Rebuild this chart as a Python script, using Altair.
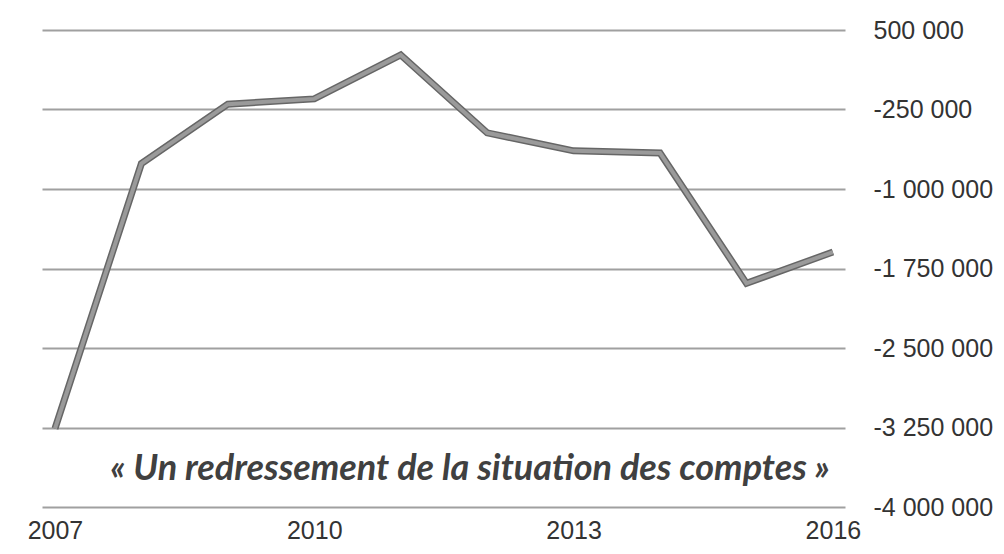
import altair as alt
import pandas as pd

years = [2007, 2008, 2009, 2010, 2011, 2012, 2013, 2014, 2015, 2016]
values = [-3260000, -760000, -200000, -150000, 265000, -470000, -640000, -660000, -1890000, -1595000]
y_ticks = [500000, -250000, -1000000, -1750000, -2500000, -3250000, -4000000]
x_ticks = [2007, 2010, 2013, 2016]
title_text = "« Un redressement de la situation des comptes »"

df = pd.DataFrame({"year": years, "value": values})
tdf = pd.DataFrame({"t": [title_text]})

x = alt.X(
    "year:Q",
    scale=alt.Scale(domain=[2006.85, 2016.14], nice=False, zero=False),
    axis=alt.Axis(values=x_ticks, format="d", title=None, grid=False, domain=False,
                  ticks=False, tickSize=0, labelPadding=11, labelFontSize=25,
                  labelFont="Liberation Sans", labelColor="#333333", labelFlush=False),
)
y = alt.Y(
    "value:Q",
    scale=alt.Scale(domain=[-4000000, 500000], nice=False, zero=False),
    axis=alt.Axis(orient="right", values=y_ticks, title=None, grid=True,
                  gridColor="#a0a0a0", gridWidth=2, domain=False, ticks=False, tickSize=0,
                  labelPadding=28, labelFontSize=25, labelFont="Liberation Sans",
                  labelColor="#333333", labelFlush=False, labelOverlap=False,
                  labelExpr="(datum.value < 0 ? '-' : '') + replace(format(abs(datum.value), ','), regexp(',', 'g'), ' ')"),
)

base = alt.Chart(df)
outer = base.mark_line(color="#666666", strokeWidth=7).encode(x=x, y=y)
inner = base.mark_line(color="#9a9a9a", strokeWidth=4).encode(x=x, y=y)

title = alt.Chart(tdf).mark_text(
    font="Lato", fontStyle="italic", fontWeight="bold", fontSize=36,
    color="#404040", align="center", baseline="alphabetic",
).encode(x=alt.value(428), y=alt.value(450), text="t:N")

chart = alt.layer(outer, inner, title).properties(
    width=803, height=477,
    padding={"left": 34, "top": 22, "right": 151, "bottom": 39},
    autosize="none",
    background="white",
).configure_view(stroke=None)

chart.save("out.html", embed_options={"renderer": "svg", "actions": False})
